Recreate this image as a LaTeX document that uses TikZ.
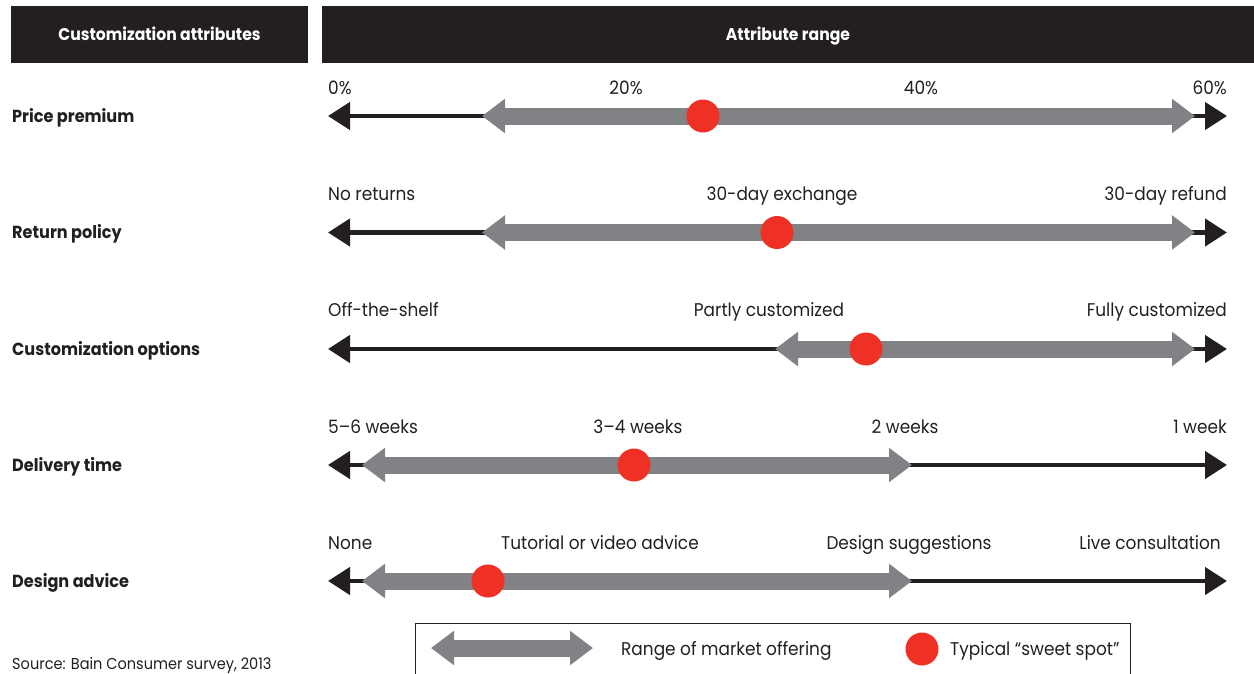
\documentclass[tikz,border=0pt]{standalone}
\usepackage{fontspec}
\setmainfont[FakeStretch=0.92]{Poppins}
\usetikzlibrary{arrows.meta}
\definecolor{ink}{HTML}{231F20}
\definecolor{rangegray}{HTML}{808285}
\definecolor{spotred}{HTML}{EE3124}
\begin{document}
\begin{tikzpicture}[x=1pt,y=-1pt,
  hdr/.style={fill=ink, draw=none, text=white, inner sep=0,
    text height=12pt, text depth=0pt,
    font=\bfseries\fontsize{17}{20}\selectfont},
  rowlabel/.style={anchor=base west, inner sep=0, text=ink,
    font=\bfseries\fontsize{17.5}{20}\selectfont},
  val/.style={inner sep=0, text=ink, font=\fontsize{18.4}{20}\selectfont},
  valL/.style={val, anchor=base west},
  valC/.style={val, anchor=base},
  valR/.style={val, anchor=base east},
  axisline/.style={draw=ink, line width=4.5pt,
    {Triangle[length=22pt,width=27pt]}-{Triangle[length=22pt,width=27pt]}},
  rangearrow/.style={draw=rangegray, line width=17pt,
    {Triangle[length=23pt,width=33pt]}-{Triangle[length=23pt,width=33pt]}},
  spot/.style={circle, fill=spotred, draw=none, minimum size=33pt, inner sep=0},
  legendtext/.style={val, anchor=base west}
]
\useasboundingbox (0,0) rectangle (1254,673);

% headers
\node[hdr, minimum width=297pt, minimum height=57pt] (h1) at (159.5,34.5) {Customization attributes};
\node[hdr, minimum width=932pt, minimum height=57pt] (h2) at (788,34.5) {Attribute range};

% row labels
\node[rowlabel] (l1) at (12,122) {Price premium};
\node[rowlabel] (l2) at (12,238.5) {Return policy};
\node[rowlabel] (l3) at (12,355) {Customization options};
\node[rowlabel] (l4) at (12,471) {Delivery time};
\node[rowlabel] (l5) at (12,587) {Design advice};

% row 1
\node[valL] (v11) at (328,94) {0\%};
\node[valC] (v12) at (626,94) {20\%};
\node[valC] (v13) at (921,94) {40\%};
\node[valR] (v14) at (1227,94) {60\%};
\coordinate (a1L) at (328,116); \coordinate (a1R) at (1227,116);
\coordinate (r1L) at (482,116); \coordinate (r1R) at (1195,116);
\draw[axisline] (a1L) -- (a1R);
\draw[rangearrow] (r1L) -- (r1R);
\node[spot] (s1) at (703,116) {};

% row 2
\node[valL] (v21) at (328,200) {No returns};
\node[valC] (v22) at (782,200) {30-day exchange};
\node[valR] (v23) at (1227,200) {30-day refund};
\coordinate (a2L) at (328,232.5); \coordinate (a2R) at (1227,232.5);
\coordinate (r2L) at (482,232.5); \coordinate (r2R) at (1195,232.5);
\draw[axisline] (a2L) -- (a2R);
\draw[rangearrow] (r2L) -- (r2R);
\node[spot] (s2) at (777,232.5) {};

% row 3
\node[valL] (v31) at (328,316) {Off-the-shelf};
\node[valC] (v32) at (769,316) {Partly customized};
\node[valR] (v33) at (1227,316) {Fully customized};
\coordinate (a3L) at (328,349); \coordinate (a3R) at (1227,349);
\coordinate (r3L) at (775,349); \coordinate (r3R) at (1195,349);
\draw[axisline] (a3L) -- (a3R);
\draw[rangearrow] (r3L) -- (r3R);
\node[spot] (s3) at (866,349) {};

% row 4
\node[valL] (v41) at (328,433) {5--6 weeks};
\node[valC] (v42) at (638,433) {3--4 weeks};
\node[valC] (v43) at (905,433) {2 weeks};
\node[valR] (v44) at (1227,433) {1 week};
\coordinate (a4L) at (328,465); \coordinate (a4R) at (1227,465);
\coordinate (r4L) at (362,465); \coordinate (r4R) at (912,465);
\draw[axisline] (a4L) -- (a4R);
\draw[rangearrow] (r4L) -- (r4R);
\node[spot] (s4) at (634,465) {};

% row 5
\node[valL] (v51) at (328,549) {None};
\node[valC] (v52) at (600,549) {Tutorial or video advice};
\node[valC] (v53) at (909,549) {Design suggestions};
\node[valR] (v54) at (1221,549) {Live consultation};
\coordinate (a5L) at (328,581); \coordinate (a5R) at (1227,581);
\coordinate (r5L) at (362,581); \coordinate (r5R) at (912,581);
\draw[axisline] (a5L) -- (a5R);
\draw[rangearrow] (r5L) -- (r5R);
\node[spot] (s5) at (488,581) {};

% legend
\coordinate (gBL) at (415,676); \coordinate (gTL) at (415,623);
\coordinate (gTR) at (1130,623); \coordinate (gBR) at (1130,676);
\draw[ink, line width=1pt] (gBL) -- (gTL) -- (gTR) -- (gBR);
\coordinate (lgL) at (431,648); \coordinate (lgR) at (593,648);
\draw[rangearrow] (lgL) -- (lgR);
\node[legendtext] (lt1) at (621,655) {Range of market offering};
\node[spot] (ls) at (922,649) {};
\node[legendtext] (lt2) at (950,655) {Typical “sweet spot”};

% source
\node[anchor=base west, inner sep=0, text=ink, font=\fontsize{15.8}{18}\selectfont] (src) at (12,669) {Source: Bain Consumer survey, 2013};
\end{tikzpicture}
\end{document}
